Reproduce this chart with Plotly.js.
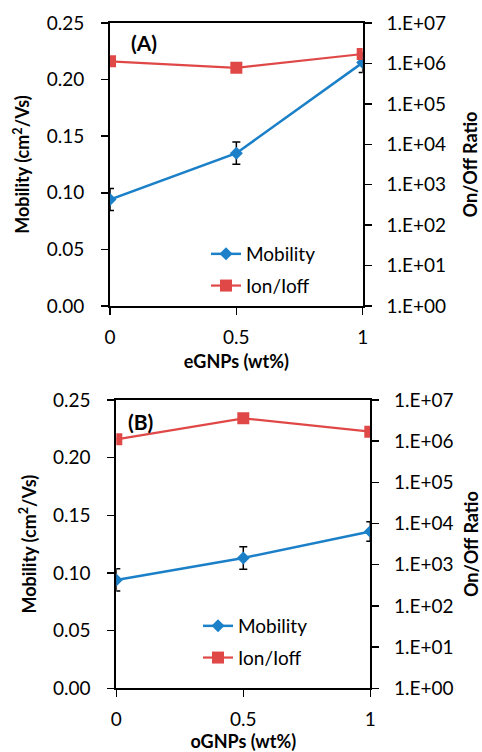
<!DOCTYPE html>
<html>
<head>
<meta charset="utf-8">
<script src="https://cdn.plot.ly/plotly-3.0.1.min.js"></script>
<style>html,body{margin:0;padding:0;background:#fff;}#chart{width:482px;height:752px;}</style>
</head>
<body>
<div id="chart"></div>
<script>
// ---- data ----
const loading = [0, 0.5, 1];
const xTickLabels = ["0", "0.5", "1"];

const mobilityA = [0.094, 0.135, 0.215];
const mobilityErrA = [0.0097, 0.0098, 0.0088];
const onOffA = [1.13e6, 7.8e5, 1.71e6];

const mobilityB = [0.094, 0.113, 0.136];
const mobilityErrB = [0.0097, 0.0098, 0.0085];
const onOffB = [1.11e6, 3.59e6, 1.70e6];

const mobTicks = [0, 0.05, 0.10, 0.15, 0.20, 0.25];
const ratioTickVals = [1, 10, 100, 1e3, 1e4, 1e5, 1e6, 1e7];
const ratioTickText = ["1.E+00","1.E+01","1.E+02","1.E+03","1.E+04","1.E+05","1.E+06","1.E+07"];

const xTitleA = "eGNPs (wt%)";
const xTitleB = "oGNPs (wt%)";
const yTitleLeft = "Mobility (cm<sup>2</sup>/Vs)";
const yTitleRight = "On/Off Ratio";
const seriesNames = ["Mobility", "Ion/Ioff"];

// ---- styles ----
const BLUE = "#1b80c8";
const RED = "#e04848";
const FONT = "Lato, 'Open Sans', sans-serif";
const W = 482, H = 752;

function mobTrace(x, y, err, xa, ya, leg) {
  return {
    x: x, y: y, xaxis: xa, yaxis: ya, legend: leg, legendgroup: "m",
    name: seriesNames[0], type: "scatter", mode: "lines+markers",
    line: {color: BLUE, width: 2.5},
    marker: {symbol: "diamond", size: 10, color: BLUE},
    error_y: {type: "data", array: err, visible: true, color: "#000", thickness: 1.5, width: 4}
  };
}
function ratioTrace(x, y, xa, ya, leg) {
  return {
    x: x, y: y, xaxis: xa, yaxis: ya, legend: leg, legendgroup: "r",
    name: seriesNames[1], type: "scatter", mode: "lines+markers",
    line: {color: RED, width: 2.2},
    marker: {symbol: "square", size: 12, color: RED}
  };
}

const traces = [
  mobTrace(loading, mobilityA, mobilityErrA, "x", "y", "legend"),
  ratioTrace(loading, onOffA, "x", "y2", "legend"),
  mobTrace(loading, mobilityB, mobilityErrB, "x2", "y3", "legend2"),
  ratioTrace(loading, onOffB, "x2", "y4", "legend2")
];

const tickFont = {family: FONT, size: 19, color: "#000"};
const titleFont = {family: FONT, size: 18, color: "#000", weight: "bold"};

function xAxis(domain, anchor, title, tstand) {
  return {
    domain: domain, anchor: anchor, range: [0, 1],
    tickvals: loading, ticktext: xTickLabels,
    ticks: "outside", ticklen: 7, tickwidth: 1.5, tickcolor: "#000",
    showline: true, linecolor: "#000", linewidth: 2, mirror: true,
    showgrid: false, zeroline: false, tickfont: tickFont,
    ticklabelstandoff: 6,
    title: {text: title, font: titleFont, standoff: tstand}
  };
}
function yLeft(domain, anchor) {
  return {
    domain: domain, anchor: anchor, range: [0, 0.25],
    tickvals: mobTicks, tickformat: ".2f",
    ticks: "outside", ticklen: 7, tickwidth: 1.5, tickcolor: "#000",
    showline: true, linecolor: "#000", linewidth: 2,
    showgrid: false, zeroline: false, tickfont: tickFont,
    ticklabelstandoff: 13,
    title: {text: yTitleLeft, font: titleFont, standoff: 12}
  };
}
function yRight(overlay, anchor, tstand) {
  return {
    overlaying: overlay, anchor: anchor, side: "right", type: "log", range: [0, 7],
    tickvals: ratioTickVals, ticktext: ratioTickText,
    ticks: "outside", ticklen: 7, tickwidth: 1.5, tickcolor: "#000",
    showline: true, linecolor: "#000", linewidth: 2,
    showgrid: false, zeroline: false, tickfont: tickFont,
    ticklabelstandoff: 11,
    title: {text: yTitleRight, font: titleFont, standoff: tstand}
  };
}

const legendFont = {family: FONT, size: 19, color: "#000"};

const layout = {
  width: W, height: H,
  margin: {l: 0, r: 0, t: 0, b: 0},
  paper_bgcolor: "#fff", plot_bgcolor: "#fff",
  font: {family: FONT, color: "#000"},
  xaxis: xAxis([110 / W, 362.7 / W], "y", xTitleA, 9),
  yaxis: yLeft([(H - 306) / H, (H - 23) / H], "x"),
  yaxis2: yRight("y", "x", 19),
  xaxis2: xAxis([116.3 / W, 370.3 / W], "y3", xTitleB, 9),
  yaxis3: yLeft([(H - 688.3) / H, (H - 400) / H], "x2"),
  yaxis4: yRight("y3", "x2", 24),
  legend: {
    x: 206 / W, y: (H - 235) / H, xanchor: "left", yanchor: "top",
    bgcolor: "rgba(0,0,0,0)", font: legendFont,
    tracegroupgap: 4, traceorder: "grouped"
  },
  legend2: {
    x: 198 / W, y: (H - 607) / H, xanchor: "left", yanchor: "top",
    bgcolor: "rgba(0,0,0,0)", font: legendFont,
    tracegroupgap: 4, traceorder: "grouped"
  },
  annotations: [
    {text: "<b>(A)</b>", xref: "paper", yref: "paper", x: 144 / W, y: (H - 43) / H,
     xanchor: "center", yanchor: "middle",
     showarrow: false, font: {family: FONT, size: 21, color: "#000"}},
    {text: "<b>(B)</b>", xref: "paper", yref: "paper", x: 140 / W, y: (H - 421) / H,
     xanchor: "center", yanchor: "middle",
     showarrow: false, font: {family: FONT, size: 21, color: "#000"}}
  ],
  showlegend: true
};

Plotly.newPlot("chart", traces, layout, {staticPlot: true, displayModeBar: false});
</script>
</body>
</html>
